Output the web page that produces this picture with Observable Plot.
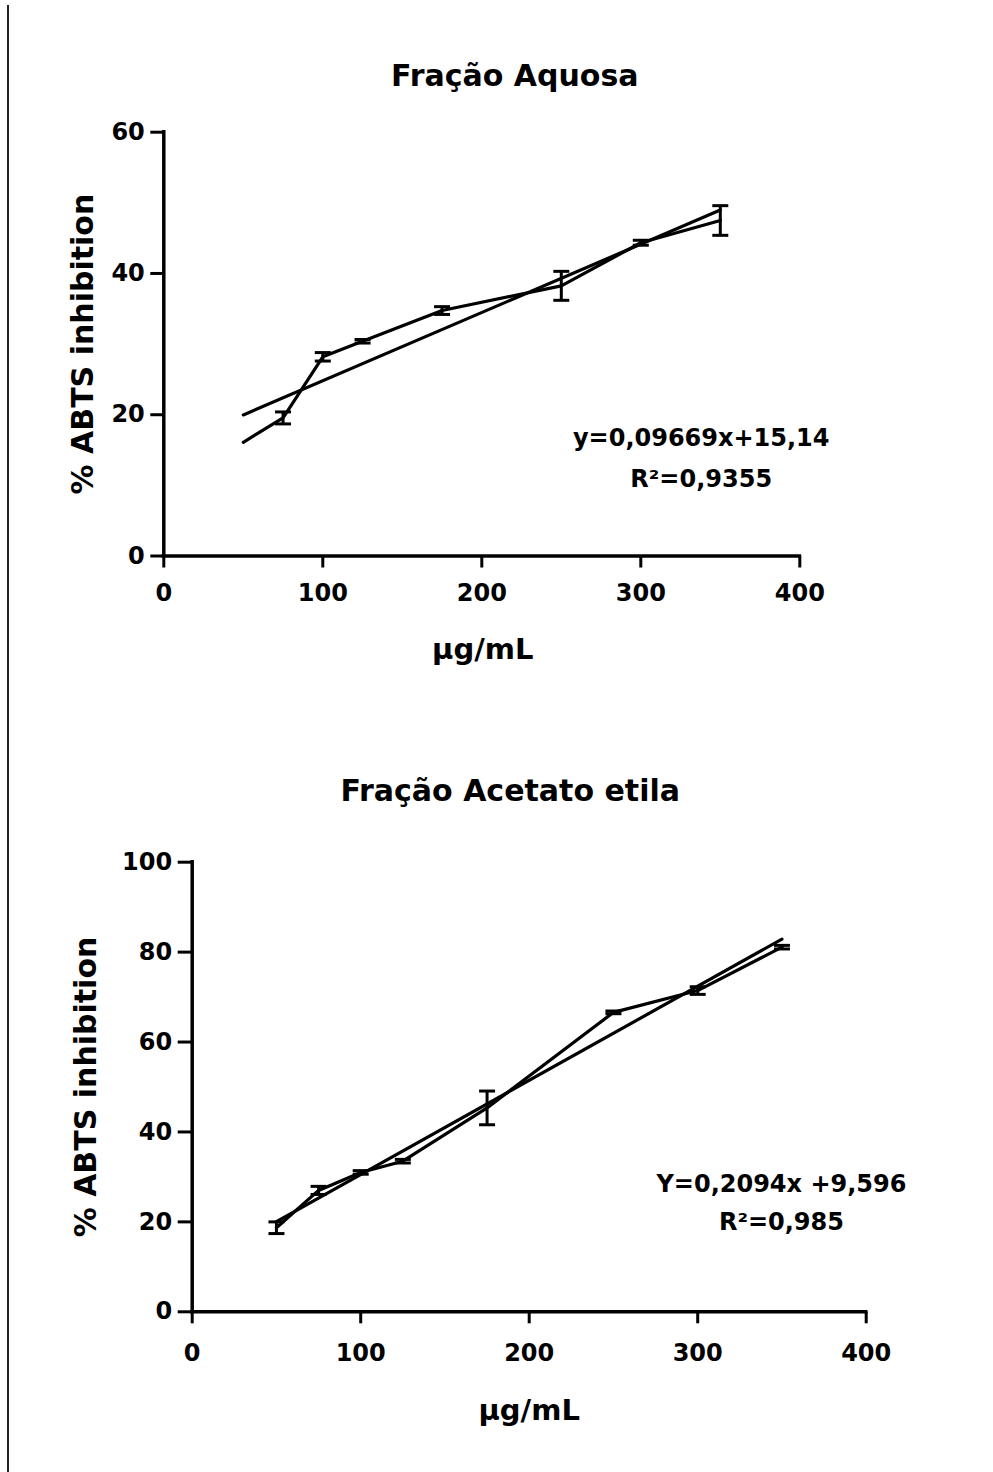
<!DOCTYPE html>
<html>
<head>
<meta charset="utf-8">
<script src="https://cdn.jsdelivr.net/npm/d3@7"></script>
<script src="https://cdn.jsdelivr.net/npm/@observablehq/plot@0.6"></script>
<style>
  html, body { margin: 0; padding: 0; background: #fff; overflow: hidden; }
  #wrap { position: relative; width: 993px; height: 1472px; background: #fff; }
  #frame { position: absolute; left: 7px; top: 5px; width: 2px; height: 1467px; background: #222; }
  #wrap svg { display: block; }
</style>
</head>
<body>
<div id="wrap"><div id="frame"></div><div id="charts"></div></div>
<script>
// ---------- Data ----------
const xTicks = [0, 100, 200, 300, 400];

// Chart 1: Fração Aquosa
const title1 = "Fração Aquosa";
const conc1 = [50, 75, 100, 125, 175, 250, 300, 350];
const mean1 = [16.1, 19.55, 28.2, 30.4, 34.75, 38.25, 44.35, 47.5];
const err1  = [null, 0.85, 0.6, 0.25, 0.55, 2.05, 0.35, 2.1];
const fitX1 = [50, 350];
const fitY1 = [19.97, 48.98];
const yTicks1 = [0, 20, 40, 60];
const eq1 = "y=0,09669x+15,14";
const r2_1 = "R²=0,9355";

// Chart 2: Fração Acetato etila
const title2 = "Fração Acetato etila";
const conc2 = [50, 75, 100, 125, 175, 250, 300, 350];
const mean2 = [18.7, 27.0, 31.0, 33.5, 45.35, 66.6, 71.45, 81.1];
const err2  = [1.3, 0.9, 0.4, 0.4, 3.75, 0.3, 0.85, 0.4];
const fitX2 = [50, 350];
const fitY2 = [20.07, 82.89];
const yTicks2 = [0, 20, 40, 60, 80, 100];
const eq2 = "Y=0,2094x +9,596";
const r2_2 = "R²=0,985";

const xLabel = "μg/mL";
const yLabel = "% ABTS inhibition";

// horizontal error-bar cap as a custom symbol
const capSymbol = {
  draw(context, size) {
    const w = Math.sqrt(size / Math.PI);
    context.moveTo(-w, 0);
    context.lineTo(w, 0);
  }
};

function chart(cfg) {
  const rows = cfg.conc.map((c, i) => ({x: c, y: cfg.mean[i], e: cfg.err[i]}));
  const bars = rows.filter(d => d.e != null).map(d => ({x: d.x, lo: d.y - d.e, hi: d.y + d.e}));
  const fit = cfg.fitX.map((x, i) => ({x, y: cfg.fitY[i]}));
  return Plot.plot({
    width: 993,
    height: cfg.height,
    marginLeft: cfg.ml, marginRight: cfg.mr, marginTop: cfg.mt, marginBottom: cfg.mb,
    x: {domain: [0, 400]},
    y: {domain: cfg.yDomain},
    style: {fontFamily: "'DejaVu Sans', sans-serif", fontWeight: "bold", fontSize: "24px", color: "black", background: "white", overflow: "visible"},
    marks: [
      Plot.axisX(xTicks, {tickSize: 12, tickPadding: cfg.xPad, strokeWidth: 3, fontWeight: "bold", label: null}),
      Plot.axisY(cfg.yTicks, {tickSize: cfg.ytSize, tickPadding: 6, strokeWidth: 3, fontWeight: "bold", label: null}),
      Plot.ruleY([cfg.yDomain[0]], {stroke: "black", strokeWidth: 3.5, strokeLinecap: "square"}),
      Plot.ruleX([0], {stroke: "black", strokeWidth: 3.5, strokeLinecap: "square"}),
      Plot.line(fit, {x: "x", y: "y", stroke: "black", strokeWidth: 3.2}),
      Plot.line(rows, {x: "x", y: "y", stroke: "black", strokeWidth: 3.2}),
      Plot.ruleX(bars, {x: "x", y1: "lo", y2: "hi", stroke: "black", strokeWidth: 3}),
      Plot.dot(bars, {x: "x", y: "lo", symbol: capSymbol, r: 8, fill: "none", stroke: "black", strokeWidth: 3}),
      Plot.dot(bars, {x: "x", y: "hi", symbol: capSymbol, r: 8, fill: "none", stroke: "black", strokeWidth: 3}),
      Plot.text([cfg.eq], {x: cfg.eqX, y: cfg.eqY1, fontSize: 24, fontWeight: "bold", fill: "black"}),
      Plot.text([cfg.r2], {x: cfg.eqX, y: cfg.eqY2, fontSize: 24, fontWeight: "bold", fill: "black"}),
      Plot.text([cfg.title], {frameAnchor: "top", textAnchor: "middle", lineAnchor: "middle", dx: cfg.tdx, dy: cfg.tdy, fontSize: 30, fontWeight: "bold", fill: "black"}),
      Plot.text([xLabel], {frameAnchor: "bottom", textAnchor: "middle", lineAnchor: "middle", dx: cfg.xldx, dy: cfg.xldy, fontSize: 29, fontWeight: "bold", fill: "black"}),
      Plot.text([yLabel], {frameAnchor: "left", textAnchor: "middle", lineAnchor: "middle", rotate: -90, dx: cfg.yldx, fontSize: 30, fontWeight: "bold", fill: "black"})
    ]
  });
}

const c1 = chart({
  height: 700, ml: 163.3, mr: 193.7, mt: 131.7, mb: 144.5,
  conc: conc1, mean: mean1, err: err1, fitX: fitX1, fitY: fitY1,
  yDomain: [0, 60], yTicks: yTicks1, ytSize: 13, xPad: 16,
  eq: eq1, r2: r2_1, eqX: 338, eqY1: 16.7, eqY2: 10.9,
  title: title1, tdx: 33, tdy: -56, xldx: 1, xldy: 93.5, yldx: -80
});
const c2 = chart({
  height: 772, ml: 191.7, mr: 127.3, mt: 161.7, mb: 160.7,
  conc: conc2, mean: mean2, err: err2, fitX: fitX2, fitY: fitY2,
  yDomain: [0, 100], yTicks: yTicks2, ytSize: 14, xPad: 20,
  eq: eq2, r2: r2_2, eqX: 349.7, eqY1: 28.3, eqY2: 19.9,
  title: title2, tdx: -19, tdy: -71, xldx: 0, xldy: 98.7, yldx: -106
});
const holder = document.getElementById("charts");
holder.appendChild(c1);
holder.appendChild(c2);
</script>
</body>
</html>
